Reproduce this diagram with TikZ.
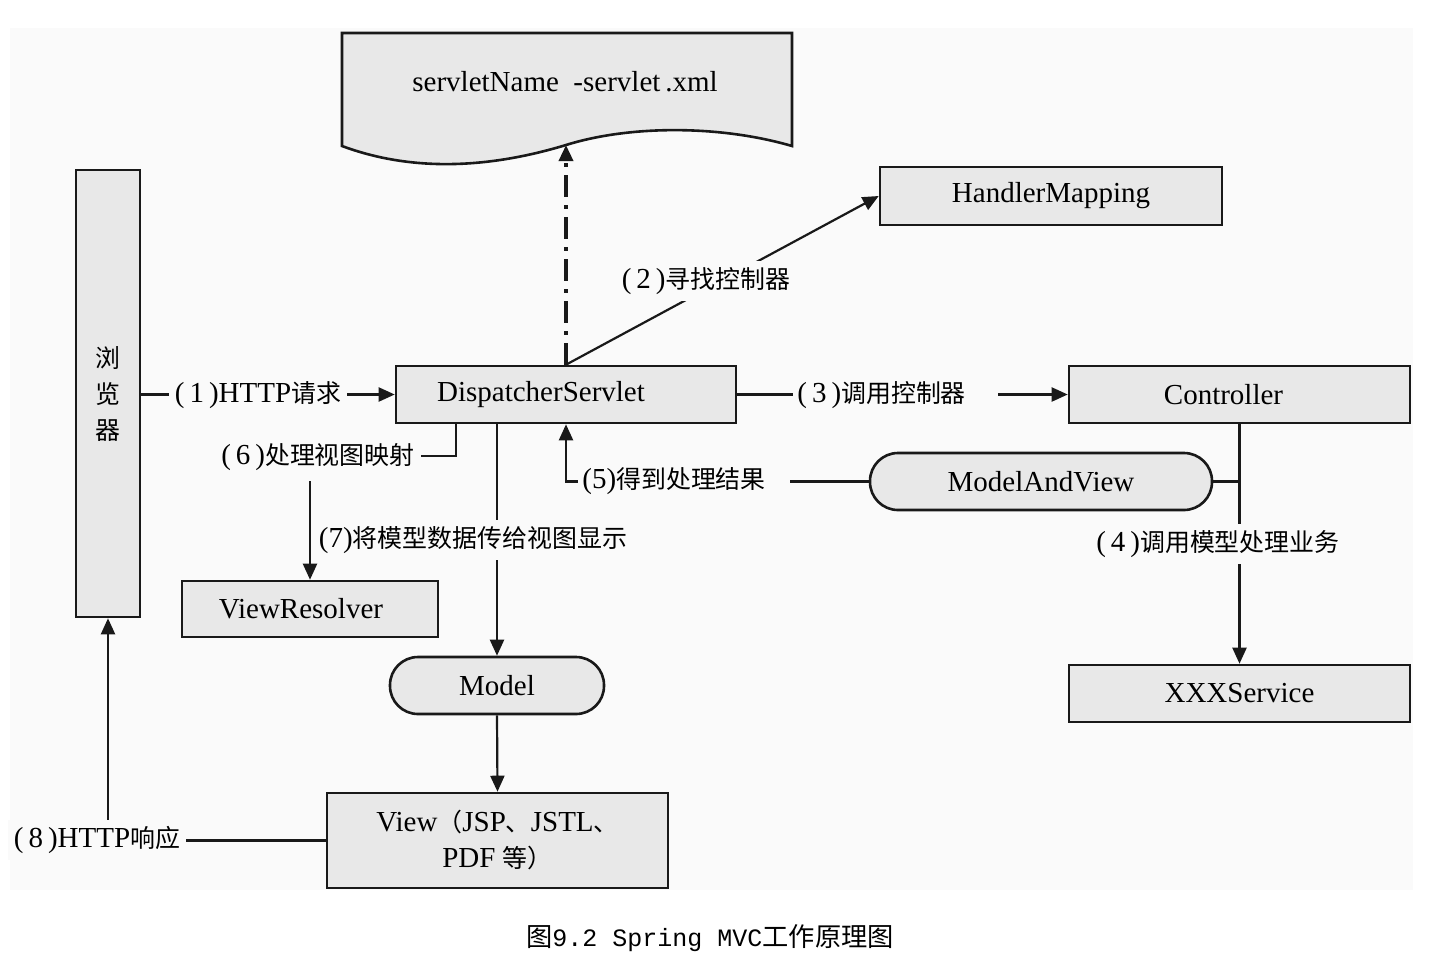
\documentclass[tikz,border=0pt]{standalone}
\usepackage{fontspec}
\setmainfont{Liberation Serif}
\newfontfamily\cjkfont{Noto Sans CJK SC}[Scale=0.86]
\newfontfamily\capmono{Liberation Mono}
\newfontfamily\capcjk{Noto Sans CJK SC}[Scale=1.05]
\newcommand\zh[1]{{\cjkfont #1}}
\newcommand\pn[1]{(\kern2.5pt#1\kern2.5pt)}
\usetikzlibrary{arrows.meta}
\definecolor{bgc}{RGB}{250,250,250}
\definecolor{boxc}{RGB}{232,232,232}
\definecolor{linec}{RGB}{25,25,25}
\tikzset{
 box/.style={draw=linec, line width=1.3pt, fill=boxc, inner sep=0pt, font=\fontsize{14.5}{18}\selectfont},
 pill/.style={box, rounded corners=14pt},
 conn/.style={draw=linec, line width=1.1pt},
 arr/.style={conn, -{Triangle[length=8pt,width=7pt]}},
 dashdotarr/.style={draw=linec, line width=1.7pt, dash pattern=on 11pt off 4pt on 2pt off 4pt, -{Triangle[length=8pt,width=7pt]}},
 lbl/.style={fill=bgc, inner xsep=3pt, inner ysep=3pt, font=\fontsize{14.5}{18}\selectfont},
}
\begin{document}
\begin{tikzpicture}[x=0.5pt,y=-0.5pt]
\useasboundingbox (0,0) rectangle (1435,960);
\fill[white] (0,0) rectangle (1435,960);
\fill[bgc] (10,28) rectangle (1413,890);

% document shape
\filldraw[draw=linec, line width=1.3pt, fill=boxc] (342,33) -- (792,33) -- (792,146)
  .. controls (720,125) and (630,125) .. (566,145)
  .. controls (500,165) and (420,175) .. (342,146) -- cycle;
\node[font=\fontsize{14.5}{18}\selectfont] (doc) at (565,82) {servletName\ \ -servlet\,.xml};
\coordinate (docb) at (566,145);

\node[box, align=center, minimum width=32pt, minimum height=223.5pt, font={\fontsize{14.5}{18}\selectfont\cjkfont}] (browser) at (108,393.5) {浏\\览\\器};
\node[box, minimum width=171pt, minimum height=29pt] (handler) at (1051,196) {HandlerMapping};
\node[box, minimum width=170pt, minimum height=28.5pt] (disp) at (566,394.5) {DispatcherServlet\hspace*{25pt}};
\node[box, minimum width=170.5pt, minimum height=28.5pt] (ctrl) at (1239.5,394.5) {Controller\hspace*{16pt}};
\node[pill, minimum width=171pt, minimum height=28.5pt] (mav) at (1041,481.5) {ModelAndView};
\node[box, minimum width=128pt, minimum height=28pt] (vr) at (310,609) {ViewResolver\hspace*{9pt}};
\node[pill, minimum width=107pt, minimum height=28.5pt] (model) at (497,685.5) {Model};
\node[box, align=center, minimum width=170.5pt, minimum height=47.5pt] (view) at (497.5,840.5) {View\zh{（}JSP\zh{、}JSTL\zh{、}\\PDF \zh{等）}};
\node[box, minimum width=170.5pt, minimum height=28.5pt] (svc) at (1239.5,693.5) {XXXService};

% (1)
\draw[arr] (browser.east |- disp.west) -- (disp.west);
\node[lbl] (l1) at (258,395) {\pn{1}HTTP\zh{请求}};
% dash-dot to xml
\draw[dashdotarr] (disp.north) -- (docb);
% (2)
\draw[arr] (disp.north) -- (handler.west);
\node[lbl] (l2) at (706,281) {\pn{2}\zh{寻找控制器}};
% (3)
\draw[arr] (disp.east) -- (ctrl.west);
\node[lbl, anchor=west, inner xsep=2pt] (l3) at (793,395) {\pn{3}\zh{调用控制器}\hspace*{14pt}};
% (4)
\draw[arr] (ctrl.south) -- (svc.north);
\node[lbl] (l4) at (1218,544) {\pn{4}\zh{调用模型处理业务}};
\draw[conn] (mav.east) -- (mav.east -| ctrl.south);
% (5)
\draw[arr] (mav.west) -| (disp.south);
\node[lbl, anchor=west, inner xsep=2pt] (l5) at (578,481) {(5)\zh{得到处理结果}\hspace*{10pt}};
% (7)
\draw[arr] (model.north |- disp.south) -- (model.north);
\node[lbl] (l7) at (473,540) {(7)\zh{将模型数据传给视图显示}};
% (6)
\draw[arr] (disp.south west) ++(61,0) -- ++(0,32) -| (vr.north);
\node[lbl, inner ysep=5pt] (l6) at (318,457) {\pn{6}\zh{处理视图映射}};
% model -> view
\draw[arr] (model.south) -- (view.north);
% (8)
\draw[arr] (view.west) -| (browser.south);
\node[lbl] (l8) at (97,840) {\pn{8}HTTP\zh{响应}};

% caption
\node[font={\fontsize{12.5}{15}\selectfont\capmono}] (cap) at (710,938) {{\capcjk 图}9.2 Spring MVC{\capcjk 工作原理图}};
\end{tikzpicture}
\end{document}
